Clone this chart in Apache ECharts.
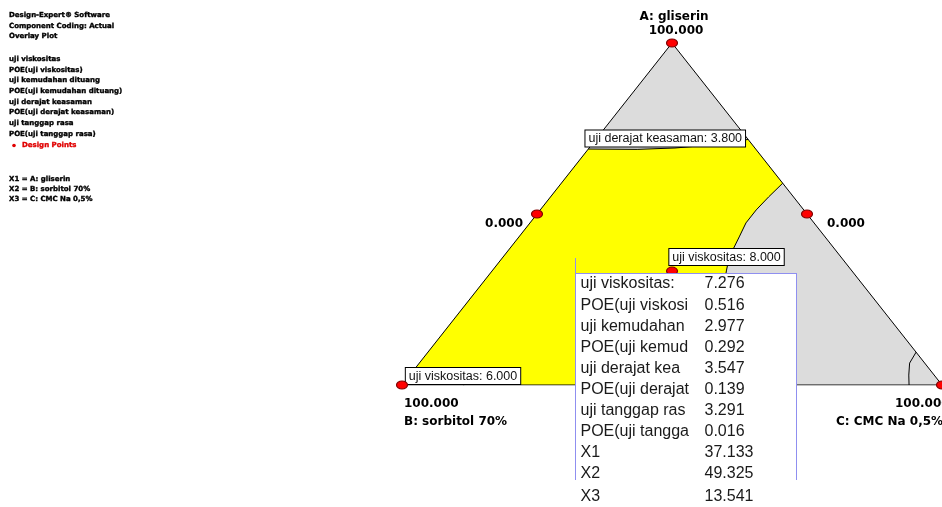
<!DOCTYPE html>
<html><head><meta charset="utf-8">
<script src="https://cdn.jsdelivr.net/npm/echarts@6/dist/echarts.min.js"></script>
<style>html,body{margin:0;padding:0;background:#fff}#c{width:942px;height:507px}</style>
</head><body><div id="c"></div>
<script>
// ---- data (compositions in %, order [A, B, C]) ----
const componentNames = ['A: gliserin', 'B: sorbitol 70%', 'C: CMC Na 0,5%'];
const vertexHighLabel = '100.000';
const edgeLowLabel = '0.000';
const vertices = [[100, 0, 0], [0, 100, 0], [0, 0, 100]];
const designPoints = [[100, 0, 0], [0, 100, 0], [0, 0, 100], [50, 50, 0], [50, 0, 50], [0, 50, 50], [33.33, 33.33, 33.34]];
// uji derajat keasaman = 3.800 (left edge -> right edge)
const contourDerajat = [[69.0, 31.0, 0], [68.9, 22.0, 9.1], [69.3, 14.8, 15.9], [70.2, 7.6, 22.2], [71.8, 0, 28.2]];
// uji viskositas = 8.000 (right edge -> base)
const contourVisk8 = [[59.0, 0, 41.0], [55.0, 4.6, 40.4], [51.2, 8.8, 40.0], [47.4, 12.6, 40.0], [43.3, 15.9, 40.8], [37.4, 20.7, 41.9], [33.6, 23.1, 43.3], [24.9, 28.4, 46.7], [13.2, 35.0, 51.8], [0, 41.9, 58.1]];
// uji viskositas = 6.000 (base -> left edge)
const contourVisk6 = [[0, 88.5, 11.5], [2.2, 91.0, 6.8], [3.8, 96.2, 0]];
// contour near C vertex (right edge -> base)
const contourNearC = [[9.6, 0, 90.4], [6.4, 2.8, 90.8], [2.9, 4.7, 92.4], [0, 6.1, 93.9]];
const contourLabelTexts = ['uji derajat keasaman: 3.800', 'uji viskositas: 8.000', 'uji viskositas: 6.000'];
const contourLabelAt = [[72.1, 15.2, 12.7], [37.4, 21.2, 41.4], [2.6, 87.4, 10.0]];
const flagPoint = [37.133, 49.325, 13.541];
const flagNames = ['uji viskositas:', 'POE(uji viskosi', 'uji kemudahan', 'POE(uji kemud', 'uji derajat kea', 'POE(uji derajat', 'uji tanggap ras', 'POE(uji tangga', 'X1', 'X2', 'X3'];
const flagValues = ['7.276', '0.516', '2.977', '0.292', '3.547', '0.139', '3.291', '0.016', '37.133', '49.325', '13.541'];
const legendHeader = ['Design-Expert® Software', 'Component Coding: Actual', 'Overlay Plot'];
const legendResponses = ['uji viskositas', 'POE(uji viskositas)', 'uji kemudahan dituang', 'POE(uji kemudahan dituang)', 'uji derajat keasaman', 'POE(uji derajat keasaman)', 'uji tanggap rasa', 'POE(uji tanggap rasa)'];
const legendDesign = 'Design Points';
const legendFactors = ['X1 = A: gliserin', 'X2 = B: sorbitol 70%', 'X3 = C: CMC Na 0,5%'];

// ternary -> cartesian (x = C + A/2, y = A)
function tern(p) { return [p[2] + p[0] / 2, p[0]]; }

const chart = echarts.init(document.getElementById('c'), null, { renderer: 'canvas' });

const feasible = contourDerajat.concat(contourVisk8, contourVisk6);
const tri = vertices.concat([vertices[0]]);

function polySeries(pts, fill, z) {
  return {
    type: 'custom', coordinateSystem: 'cartesian2d', silent: true, z: z,
    data: [[0, 0]],
    renderItem: function (params, api) {
      return { type: 'polygon', shape: { points: pts.map(p => api.coord(tern(p))) }, style: { fill: fill } };
    }
  };
}
function lineSeries(pts, z) {
  return {
    type: 'line', data: pts.map(tern), symbol: 'none', silent: true, z: z, animation: false,
    lineStyle: { color: '#000', width: 1 }
  };
}

const legendFontSmall = 'bold 7px "DejaVu Sans"';
const graphics = [];
function legText(t, x, y, color) {
  graphics.push({ type: 'text', x: x, y: y, style: { text: t, font: legendFontSmall, fill: color, stroke: color, lineWidth: 0.35, verticalAlign: 'middle' } });
}
legendHeader.forEach((t, i) => legText(t, 9, 15 + i * 10.8, '#000'));
legendResponses.forEach((t, i) => legText(t, 9, 59 + i * 10.7, '#000'));
graphics.push({ type: 'circle', shape: { cx: 14, cy: 145.5, r: 1.8 }, style: { fill: '#e00000' } });
legText(legendDesign, 22, 145.5, '#e00000');
legendFactors.forEach((t, i) => legText(t, 9, 179 + i * 10.3, '#000'));

const axFont = 'bold 12px "DejaVu Sans"';
function axText(t, x, y, align) {
  graphics.push({ type: 'text', x: x, y: y, z: 10, style: { text: t, font: axFont, fill: '#000', align: align, verticalAlign: 'middle' } });
}
axText(componentNames[0], 674, 17, 'center');
axText(vertexHighLabel, 676, 31, 'center');
axText(edgeLowLabel, 523, 224, 'right');
axText(edgeLowLabel, 827, 224, 'left');
axText(vertexHighLabel, 404, 404, 'left');
axText(componentNames[1], 404, 422, 'left');
axText(vertexHighLabel, 895, 404, 'left');
axText(componentNames[2], 836, 422, 'left');

const option = {
  animation: false,
  backgroundColor: '#fff',
  grid: { left: 402, right: -6, top: 43, bottom: 122, containLabel: false },
  xAxis: { type: 'value', min: 0, max: 100, show: false },
  yAxis: { type: 'value', min: 0, max: 100, show: false },
  graphic: graphics,
  series: [
    polySeries(vertices, '#dcdcdc', 1),
    polySeries(feasible, '#ffff00', 2),
    lineSeries(contourDerajat, 3),
    lineSeries(contourVisk8, 3),
    lineSeries(contourVisk6, 3),
    lineSeries(contourNearC, 3),
    lineSeries(tri, 4),
    {
      type: 'scatter', silent: true, z: 6,
      data: contourLabelAt.map((p, i) => ({ value: tern(p), name: contourLabelTexts[i] })),
      symbolSize: 0,
      itemStyle: { opacity: 1 },
      label: {
        show: true, position: 'inside', formatter: '{b}', color: '#111',
        fontFamily: 'Liberation Sans', fontSize: 12.5, backgroundColor: '#fff',
        borderColor: '#000', borderWidth: 1, padding: [2, 3, 1, 3]
      }
    },
    {
      type: 'scatter', silent: true, z: 7,
      data: designPoints.map(tern),
      symbol: 'circle', symbolSize: [11, 8],
      itemStyle: { color: '#ff0000', borderColor: '#800000', borderWidth: 1, opacity: 1 }
    },
    {
      type: 'custom', coordinateSystem: 'cartesian2d', silent: true, z: 9,
      data: [tern(flagPoint)],
      renderItem: function (params, api) {
        const p = api.coord([api.value(0), api.value(1)]);
        const x0 = Math.round(p[0]) + 0.5, y0 = Math.round(p[1]);
        const w = 221, top = y0 + 15, bot = y0 + 222;
        const kids = [
          { type: 'rect', shape: { x: x0, y: top, width: w, height: bot - top }, style: { fill: '#fff' } },
          { type: 'line', shape: { x1: x0, y1: y0, x2: x0, y2: bot }, style: { stroke: '#8f8ff0', lineWidth: 1 } },
          { type: 'line', shape: { x1: x0, y1: top + 0.5, x2: x0 + w, y2: top + 0.5 }, style: { stroke: '#8f8ff0', lineWidth: 1 } },
          { type: 'line', shape: { x1: x0 + w, y1: top, x2: x0 + w, y2: bot }, style: { stroke: '#8f8ff0', lineWidth: 1 } }
        ];
        flagNames.forEach((n, i) => {
          const yy = y0 + 26 + i * 21.1 + (i === 10 ? 2 : 0);
          kids.push({ type: 'text', x: x0 + 5, y: yy, style: { text: n, fill: '#1a1a1a', font: '16px "Liberation Sans"', verticalAlign: 'middle' } });
          kids.push({ type: 'text', x: x0 + 129, y: yy, style: { text: flagValues[i], fill: '#1a1a1a', font: '16px "Liberation Sans"', verticalAlign: 'middle' } });
        });
        return { type: 'group', children: kids };
      }
    }
  ]
};
chart.setOption(option);
</script>
</body></html>
